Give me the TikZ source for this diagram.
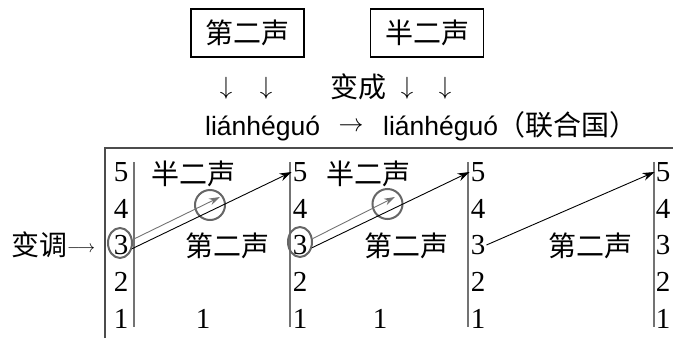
\documentclass[tikz,border=0pt]{standalone}
\usepackage{fontspec}
\setmainfont{Liberation Serif}
\newfontfamily\cjk{Noto Sans CJK SC}
\newfontfamily\py{Liberation Sans}
\usetikzlibrary{arrows.meta,shapes.geometric}
\definecolor{frameg}{gray}{0.3}
\definecolor{lineg}{gray}{0.45}
\definecolor{circg}{gray}{0.4}
\begin{document}
\begin{tikzpicture}[x=1pt,y=-1pt,
  cjktxt/.style={inner sep=0pt,font=\cjk\fontsize{28}{30}\selectfont},
  pytxt/.style={inner sep=0pt,font=\py\fontsize{26.5}{28}\selectfont},
  digit/.style={inner sep=1pt,font=\fontsize{29}{31}\selectfont},
  tonebox/.style={draw,line width=1.1pt,minimum width=113pt,minimum height=48pt,inner sep=0pt,font=\cjk\fontsize{28}{30}\selectfont},
  downarr/.style={inner sep=0pt,font=\fontsize{28}{30}\selectfont},
  tline/.style={lineg,line width=1.3pt},
  ringed/.style={draw=circg,line width=2pt},
  blackarr/.style={line width=0.9pt,-{Stealth[length=12pt,width=8pt]}},
  grayarr/.style={lineg,line width=0.9pt,-{Stealth[length=11pt,width=7pt]}}]
\useasboundingbox (0,0) rectangle (673,338);
% top boxes
\node[tonebox] (b1) at (247.5,33) {第二声};
\node[tonebox] (b2) at (427,33) {半二声};
% down arrows
\node[downarr] (d1) at (226,88) {$\downarrow$};
\node[downarr] (d2) at (266,88) {$\downarrow$};
\node[cjktxt] (bc) at (358,87) {变成};
\node[downarr] (d3) at (407,88) {$\downarrow$};
\node[downarr] (d4) at (445,88) {$\downarrow$};
% pinyin line
\node[pytxt,anchor=base west] (p1) at (205,135) {liánhéguó};
\node[downarr] (pa) at (351,127) {$\rightarrow$};
\node[pytxt,anchor=base west] (p2) at (383,135) {liánhéguó};
\node[cjktxt,anchor=base west] (p3) at (497,135) {（联合国）};
% frame
\draw[frameg,line width=1.5pt] (105,338) -- (105,148) -- (673,148);
% vertical lines
\foreach \x/\n in {134/1,290/2,468/3,654/4}{
  \coordinate (vt\n) at (\x,162);
  \coordinate (vb\n) at (\x,327);
  \draw[tline] (vt\n) -- (vb\n);
}
% digits
\foreach \k/\y in {5/172,4/209,3/245,2/282,1/319}{
  \node[digit] (a\k) at (121,\y) {\k};
  \node[digit] (b\k) at (300,\y) {\k};
  \node[digit] (c\k) at (478,\y) {\k};
  \node[digit] (d\k) at (663,\y) {\k};
}
% rings around 3
\node[ringed,ellipse,minimum width=24pt,minimum height=30pt,inner sep=0pt] (e1) at (120,243) {};
\node[ringed,ellipse,minimum width=24pt,minimum height=30pt,inner sep=0pt] (e2) at (300,242) {};
% small circles
\node[ringed,circle,minimum size=30pt,inner sep=0pt] (s1) at (210,205) {};
\node[ringed,circle,minimum size=30pt,inner sep=0pt] (s2) at (387.5,204) {};
% labels
\node[cjktxt] (h1) at (193,174) {半二声};
\node[cjktxt] (h2) at (368,174) {半二声};
\node[cjktxt] (g1) at (227,246) {第二声};
\node[cjktxt] (g2) at (406,246) {第二声};
\node[cjktxt] (g3) at (590,246) {第二声};
\node[digit] (o1) at (203,319) {1};
\node[digit] (o2) at (380,319) {1};
\node[cjktxt,anchor=west] (bd) at (11,245) {变调\raisebox{3pt}{\fontsize{19}{21}\selectfont$\longrightarrow$}};
% arrows
\coordinate (gt1) at (220,197);
\coordinate (gt2) at (395,197);
\draw[grayarr] (e1.15) -- (gt1);
\draw[grayarr] (e2.15) -- (gt2);
\draw[blackarr] (e1.-25) -- (b5.west);
\draw[blackarr] (e2.-25) -- (c5.west);
\draw[blackarr] (c3.east) -- (d5.west);
\end{tikzpicture}
\end{document}
